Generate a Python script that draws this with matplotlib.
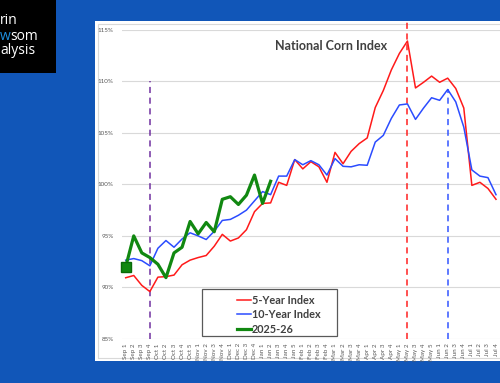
import matplotlib
matplotlib.use("Agg")
import matplotlib.pyplot as plt
from matplotlib.patches import Rectangle
from matplotlib.lines import Line2D

# ---------------- data ----------------
weeks = ["Sep 1", "Sep 2", "Sep 3", "Sep 4",
         "Oct 1", "Oct 2", "Oct 3", "Oct 4", "Oct 5",
         "Nov 1", "Nov 2", "Nov 3", "Nov 4",
         "Dec 1", "Dec 2", "Dec 3", "Dec 4",
         "Jan 1", "Jan 2", "Jan 3", "Jan 4", "Jan 5",
         "Feb 1", "Feb 2", "Feb 3", "Feb 4",
         "Mar 1", "Mar 2", "Mar 3", "Mar 4",
         "Apr 1", "Apr 2", "Apr 3", "Apr 4",
         "May 1", "May 2", "May 3", "May 4", "May 5",
         "Jun 1", "Jun 2", "Jun 3", "Jun 4",
         "Jul 1", "Jul 2", "Jul 3", "Jul 4"]

five_year = [90.94, 91.16, 90.2, 89.6, 91.0, 91.05, 91.2, 92.2, 92.65,
             92.9, 93.1, 94.0, 95.15, 94.5, 94.8, 95.6, 97.35,
             98.15, 98.2, 100.2, 99.9, 102.4, 101.5, 102.2, 101.7, 100.2,
             103.1, 102.0, 103.2, 103.95, 104.5, 107.45, 109.1, 111.1,
             112.7, 113.9, 109.35, 109.9, 110.5, 109.9, 110.3, 109.3, 107.4,
             99.9, 100.2, 99.6, 98.55]

ten_year = [92.65, 92.8, 92.6, 92.1, 93.8, 94.55, 93.9, 94.7, 95.3,
            95.0, 94.65, 95.45, 96.5, 96.6, 97.0, 97.5, 98.4,
            99.3, 99.0, 100.8, 100.8, 102.4, 101.9, 102.3, 101.9, 100.9,
            102.5, 101.75, 101.7, 101.9, 101.85, 104.1, 104.75, 106.4,
            107.7, 107.8, 106.3, 107.4, 108.4, 108.15, 109.2, 108.0, 105.55,
            101.4, 100.8, 100.65, 99.0]

season_2025 = [92.0, 95.0, 93.35, 92.9, 92.25, 90.95, 93.35, 93.9, 96.4,
               95.2, 96.3, 95.4, 98.55, 98.8, 98.05, 98.95, 100.9,
               98.15, 100.3]

yticks = [85, 90, 95, 100, 105, 110, 115]
series_names = ["5-Year Index", "10-Year Index", "2025-26"]
marker_week = "Sep 4"
five_peak_week = "May 2"
ten_peak_week = "Jun 2"

# ---------------- figure ----------------
W, H = 500, 383
fig = plt.figure(figsize=(W / 100, H / 100), dpi=100)
fig.patch.set_facecolor("#1156b8")

def fx(x):
    return x / W

def fy(y):
    return 1 - y / H

# white chart panel
fig.patches.append(Rectangle((fx(95), fy(361)), fx(420), 340 / H,
                             transform=fig.transFigure, facecolor="white",
                             edgecolor="none", zorder=-2))
fig.patches.append(Rectangle((fx(98), fy(358)), fx(420), 334 / H,
                             transform=fig.transFigure, facecolor="none",
                             edgecolor="#d9d9d9", lw=0.8, zorder=-1))

# black logo box top-left
fig.patches.append(Rectangle((0, fy(73)), fx(56), 73 / H,
                             transform=fig.transFigure, facecolor="black",
                             edgecolor="none", zorder=1))
logo_font = dict(family=["Open Sans", "DejaVu Sans"], fontsize=10,
                 va="center", ha="left", zorder=2)
fig.text(fx(0), fy(20), "rin", color="white", **logo_font)
fig.text(fx(0), fy(36), "w", color="#1e90e0", **logo_font)
fig.text(fx(10), fy(36), "som", color="white", **logo_font)
fig.text(fx(0), fy(50.5), "alysis", color="white", **logo_font)

# axes
x0 = 122
step = 8.05
first = 125.7
lo = -(first - x0) / step
right_px = 505
hi = (right_px - first) / step
ax = fig.add_axes([fx(x0), (H - 339) / H, fx(right_px - x0), (339 - 29.7) / H])
ax.set_zorder(3)
ax.set_facecolor("none")
ax.set_xlim(lo, hi)
ax.set_ylim(85, 115)

xs = list(range(len(weeks)))
ax.set_yticks(yticks)
ax.set_yticklabels([f"{v}%" for v in yticks])
ax.set_xticks(xs)
ax.set_xticklabels(weeks, rotation=90)
ax.grid(axis="y", color="#d9d9d9", lw=0.8)
ax.set_axisbelow(True)
for s in ax.spines.values():
    s.set_visible(False)
ax.tick_params(axis="both", length=0, colors="#595959")
ax.tick_params(axis="y", labelsize=4.5, pad=6)
ax.tick_params(axis="x", labelsize=4.5, pad=3)
for t in ax.get_xticklabels() + ax.get_yticklabels():
    t.set_family(["Lato", "DejaVu Sans"])

# vertical reference lines
ax.vlines(weeks.index(marker_week), 85, 110, colors="#7030a0", lw=1.1,
          linestyles=(0, (4, 3)), zorder=2)
ax.vlines(weeks.index(five_peak_week), 85, 115.8, colors="#ff2020", lw=1.1,
          linestyles=(0, (4, 3)), zorder=2, clip_on=False)
ax.vlines(weeks.index(ten_peak_week), 85, max(ten_year), colors="#3355ff",
          lw=1.1, linestyles=(0, (4, 3)), zorder=2)

# series
l1, = ax.plot(xs, five_year, color="#ff1a1a", lw=1.1, zorder=3)
l2, = ax.plot(xs, ten_year, color="#2b4cff", lw=1.1, zorder=3)
l3, = ax.plot(xs[:len(season_2025)], season_2025, color="#118811", lw=2.3,
              zorder=4)
ax.plot([xs[0]], [season_2025[0]], marker="s", ms=7.5, color="#118811",
        mec="#0a6a0a", zorder=5, clip_on=False)

# title
fig.text(fx(331), fy(45.5), "National Corn Index", ha="center", va="center",
         fontsize=9, fontweight="bold", color="#404040",
         family=["Lato", "DejaVu Sans"], zorder=4)

# legend
fig.patches.append(Rectangle((fx(201.7), fy(335.7)), fx(135.6), 46.7 / H,
                             transform=fig.transFigure, facecolor="white",
                             edgecolor="#595959", lw=0.9, zorder=6))
leg = fig.legend([l1, l2, Line2D([], [], color="#118811", lw=2.3)],
                 series_names, loc="upper left",
                 bbox_to_anchor=(fx(229), fy(287)), frameon=False,
                 handlelength=1.3, handletextpad=0.12, labelspacing=0.32,
                 borderpad=0.2,
                 prop=dict(family=["Lato", "DejaVu Sans"], weight="bold",
                           size=7.8))
leg.set_zorder(7)
for t in leg.get_texts():
    t.set_color("#404040")

fig.savefig("out.png", dpi=100, facecolor=fig.get_facecolor())
